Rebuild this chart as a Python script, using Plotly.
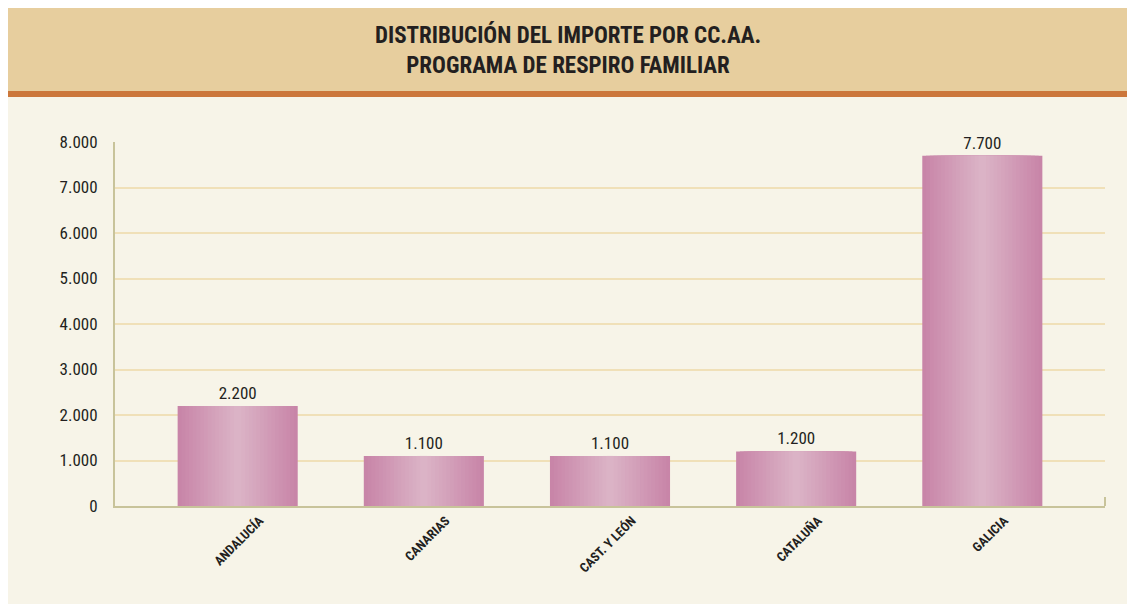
import plotly.graph_objects as go

categories = ["ANDALUCÍA", "CANARIAS", "CAST. Y LEÓN", "CATALUÑA", "GALICIA"]
importe = [2200, 1100, 1100, 1200, 7700]
y_ticks = [0, 1000, 2000, 3000, 4000, 5000, 6000, 7000, 8000]

# figure sits at page offset (8, 8) because of the body margin
W, H = 1127, 596
L, R, T, B = 107, 30, 134, 98
PW, PH = W - L - R, H - T - B

def px(X):
    return (X - L) / PW

def py(Y):
    return (H - B - Y) / PH

FONT = "Roboto Condensed, Liberation Sans Narrow, sans-serif"
edge = (200, 133, 168)
center = (219, 179, 198)
bar_w = 0.645
N = 16

fig = go.Figure()
for i in range(N):
    f = i / (N - 1)
    col = tuple(round(edge[k] + (center[k] - edge[k]) * f) for k in range(3))
    w = bar_w * (1 - i / N)
    kw = {}
    if i == 0:
        kw = dict(text=importe, texttemplate="%{y:,.0f}", textposition="outside",
                  textfont=dict(family=FONT, size=17, color="#231F20"))
    fig.add_trace(go.Bar(x=categories, y=importe, width=w,
                         marker=dict(color="rgb(%d,%d,%d)" % col, line=dict(width=0)),
                         hoverinfo="skip" if i else None, showlegend=False, cliponaxis=False, **kw))

fig.update_layout(
    width=W, height=H, barmode="overlay", separators=",.",
    paper_bgcolor="white", plot_bgcolor="rgba(0,0,0,0)",
    margin=dict(l=L, r=R, t=T, b=B, autoexpand=False),
    font=dict(family=FONT, color="#231F20"),
    shapes=[
        dict(type="rect", xref="paper", yref="paper", layer="below",
             x0=px(0), x1=px(W), y0=py(H), y1=py(89),
             fillcolor="#F7F4E8", line=dict(width=0)),
        dict(type="rect", xref="paper", yref="paper", layer="below",
             x0=px(0), x1=px(W), y0=py(83), y1=py(0),
             fillcolor="#E7CE9E", line=dict(width=0)),
        dict(type="rect", xref="paper", yref="paper", layer="below",
             x0=px(0), x1=px(W), y0=py(89), y1=py(83),
             fillcolor="#CC773B", line=dict(width=0)),
        dict(type="line", xref="paper", yref="paper", x0=1, x1=1, y0=0, y1=9 / PH,
             line=dict(color="#C8C39A", width=2)),
    ],
    annotations=[
        dict(text="<b>DISTRIBUCIÓN DEL IMPORTE POR CC.AA.<br>PROGRAMA DE RESPIRO FAMILIAR</b>",
             xref="paper", yref="paper", x=px(560), y=py(42),
             xanchor="center", yanchor="middle", showarrow=False, align="center",
             font=dict(family=FONT, size=23, color="#231F20")),
    ],
)

fig.update_xaxes(
    range=[-0.659, 4.659], showgrid=False, zeroline=False,
    showline=True, linecolor="#C8C39A", linewidth=2,
    tickangle=-45, ticks="", ticklabelshift=22, ticklabelstandoff=0,
    tickfont=dict(family=FONT, size=13, color="#231F20"),
    tickvals=categories, ticktext=["<b>%s</b>" % c for c in categories],
)
fig.update_yaxes(
    range=[0, 8001], tickvals=y_ticks, tickformat=",.0f",
    showgrid=True, gridcolor="#F0E0B8", gridwidth=1.5, zeroline=False,
    showline=True, linecolor="#C8C39A", linewidth=2, ticks="",
    ticklabelstandoff=12,
    tickfont=dict(family=FONT, size=17, color="#231F20"),
)

fig.write_html("out.html")
